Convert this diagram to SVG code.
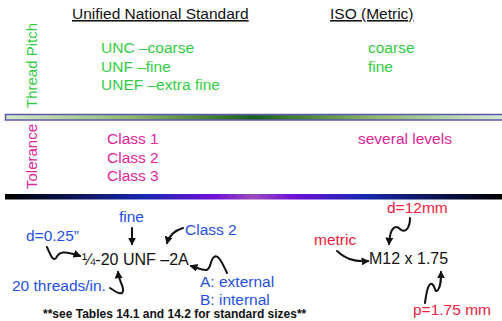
<svg xmlns="http://www.w3.org/2000/svg" width="502" height="321" viewBox="0 0 502 321">
  <defs>
    <style>
      text { font-family: "Liberation Sans", Arial, sans-serif; }
      .head { font-size: 15.5px; fill: #111; text-decoration: underline; }
      .grn { font-size: 15.5px; fill: #33cc44; }
      .mag { font-size: 15.5px; fill: #e0259a; }
      .blu { font-size: 15.5px; fill: #1f4fe8; }
      .red { font-size: 15.5px; fill: #f0203c; }
      .code { font-size: 16px; fill: #111; }
      .note { font-size: 12px; font-weight: bold; fill: #111; }
      .side { font-size: 15px; }
      .arr { fill: none; stroke: #111; stroke-width: 2; stroke-linecap: round; marker-end: url(#ah); }
    </style>
    <marker id="ah" viewBox="0 0 10 10" refX="8" refY="5" markerWidth="8" markerHeight="8" markerUnits="userSpaceOnUse" orient="auto">
      <path d="M0,0 L10,5 L0,10 Z" fill="#111"/>
    </marker>
    <linearGradient id="gBar" x1="5" y1="0" x2="502" y2="0" gradientUnits="userSpaceOnUse">
      <stop offset="0" stop-color="#d6e8cc"/>
      <stop offset="0.25" stop-color="#92b872"/>
      <stop offset="0.5" stop-color="#1a621a"/>
      <stop offset="0.75" stop-color="#92b872"/>
      <stop offset="1" stop-color="#d6e8d6"/>
    </linearGradient>
    <linearGradient id="bBar" x1="5" y1="0" x2="502" y2="0" gradientUnits="userSpaceOnUse">
      <stop offset="0" stop-color="#000000"/>
      <stop offset="0.28" stop-color="#1828b0"/>
      <stop offset="0.42" stop-color="#7010d8"/>
      <stop offset="0.5" stop-color="#9a4ab8"/>
      <stop offset="0.58" stop-color="#7010d8"/>
      <stop offset="0.72" stop-color="#1828b0"/>
      <stop offset="1" stop-color="#000000"/>
    </linearGradient>
  </defs>

  <rect width="502" height="321" fill="#ffffff"/>

  <!-- column headings -->
  <g id="heading-un"><text class="head" x="72" y="19">Unified National Standard</text></g>
  <g id="heading-iso"><text class="head" x="330" y="19">ISO (Metric)</text></g>

  <!-- thread pitch row -->
  <g id="label-pitch"><text class="side" fill="#33cc44" transform="translate(37,108) rotate(-90)">Thread Pitch</text></g>
  <g id="pitch-un">
    <text class="grn" x="101" y="53">UNC –coarse</text>
    <text class="grn" x="101" y="72">UNF –fine</text>
    <text class="grn" x="101" y="90">UNEF –extra fine</text>
  </g>
  <g id="pitch-iso">
    <text class="grn" x="368" y="53">coarse</text>
    <text class="grn" x="368" y="72">fine</text>
  </g>

  <!-- divider bars -->
  <rect x="5.5" y="114.5" width="500" height="5.5" fill="url(#gBar)" stroke="#5a5aaa" stroke-width="1.5"/>
  <rect x="5" y="194" width="497" height="5.5" fill="url(#bBar)"/>

  <!-- tolerance row -->
  <g id="label-tol"><text class="side" fill="#e0259a" transform="translate(37,189) rotate(-90)">Tolerance</text></g>
  <g id="tol-un">
    <text class="mag" x="107" y="144">Class 1</text>
    <text class="mag" x="107" y="162.5">Class 2</text>
    <text class="mag" x="107" y="181">Class 3</text>
  </g>
  <g id="tol-iso"><text class="mag" x="358" y="144">several levels</text></g>

  <!-- inch designation example -->
  <g id="ex-fine"><text class="blu" x="119" y="222">fine</text></g>
  <g id="ex-class"><text class="blu" x="185" y="235">Class 2</text></g>
  <g id="ex-d"><text class="blu" x="26" y="241">d=0.25”</text></g>
  <g id="ex-code"><text class="code" x="82" y="265">¼-20 UNF –2A</text></g>
  <g id="ex-tpi"><text class="blu" x="12" y="291">20 threads/in.</text></g>
  <g id="ex-ab">
    <text class="blu" x="200" y="287">A: external</text>
    <text class="blu" x="200" y="305">B: internal</text>
  </g>

  <!-- metric designation example -->
  <g id="m-d"><text class="red" x="387" y="213">d=12mm</text></g>
  <g id="m-metric"><text class="red" x="314" y="245">metric</text></g>
  <g id="m-code"><text class="code" x="369" y="264">M12 x 1.75</text></g>
  <g id="m-p"><text class="red" x="413" y="315">p=1.75 mm</text></g>

  <g id="note"><text class="note" x="43" y="318">**see Tables 14.1 and 14.2 for standard sizes**</text></g>

  <!-- callout arrows -->
  <g id="connectors">
    <path class="arr" d="M132,228 L132,244"/>
    <path class="arr" d="M183,228 Q170,232 167,243"/>
    <path class="arr" d="M47,247 C50,254 53,262 56,258 C59,252 63,250 80,256"/>
    <path class="arr" d="M110,288 C116,292 122,296 123,291 C124,286 119,282 118,272"/>
    <path class="arr" d="M227,273 C222,262 218,254 214,257 C210,260 211,270 206,270 C201,270 198,268 191,266"/>
    <path class="arr" d="M410,218 C410,228 405,234 400,229 C396,225 390,226 389,244"/>
    <path class="arr" d="M337,251 C345,258 352,262 368,261"/>
    <path class="arr" d="M425,303 C426,295 428,282 432,284 C436,286 434,294 438,290 C441,286 441,280 441,272"/>
  </g>
</svg>
